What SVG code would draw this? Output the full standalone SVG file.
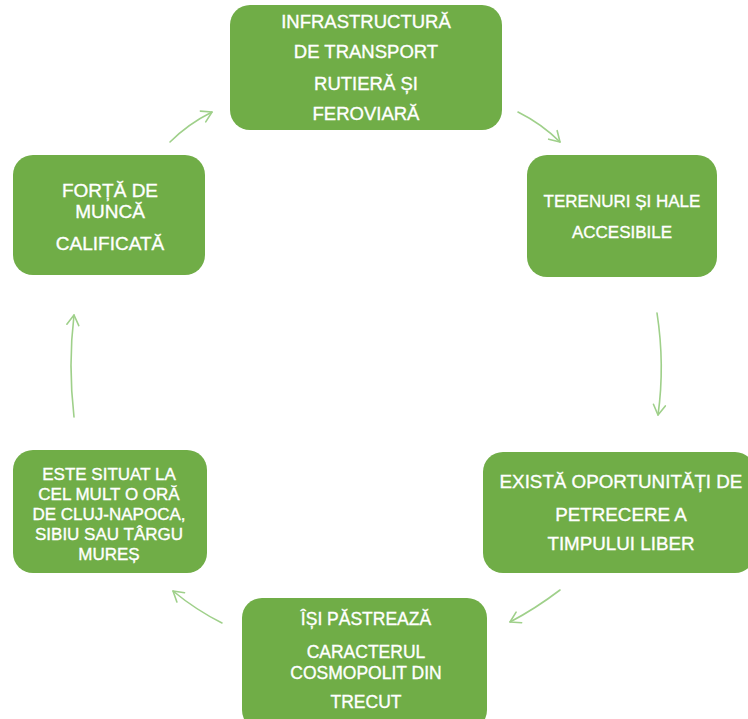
<svg xmlns="http://www.w3.org/2000/svg" width="748" height="719" viewBox="0 0 748 719">
<defs>
<style>
.node{fill:#70AD47;}
.t{fill:#ffffff;stroke:#ffffff;stroke-width:0.35;font-family:"Liberation Sans",Arial,sans-serif;text-anchor:middle;}
.c{fill:none;stroke:#9FD08A;stroke-width:1.6;stroke-linecap:round;}
</style>
<marker id="ah" viewBox="-12 -8 14 16" markerWidth="14" markerHeight="16" refX="0" refY="0" orient="auto" markerUnits="userSpaceOnUse">
<path d="M-10,-6 L0,0 L-10,6" fill="none" stroke="#9FD08A" stroke-width="1.6" stroke-linecap="round" stroke-linejoin="round"/>
</marker>
</defs>
<rect width="748" height="719" fill="#ffffff"/>
<g id="connectors">
<path class="c" d="M170,142 Q188,124 212,112" marker-end="url(#ah)"/>
<path class="c" d="M518,112 Q542,124 560,142" marker-end="url(#ah)"/>
<path class="c" d="M657,313 Q665,365 658,415" marker-end="url(#ah)"/>
<path class="c" d="M560,590 Q535,609 510,622" marker-end="url(#ah)"/>
<path class="c" d="M222,623 Q196,610 173,591" marker-end="url(#ah)"/>
<path class="c" d="M74,417 Q68,365 74,315" marker-end="url(#ah)"/>
</g>
<g id="n1">
<rect class="node" x="230" y="5" width="272" height="125" rx="20"/>
<text class="t" font-size="18.5"><tspan x="366" y="28">INFRASTRUCTURĂ</tspan><tspan x="366" y="58">DE TRANSPORT</tspan><tspan x="366" y="90">RUTIERĂ ȘI</tspan><tspan x="366" y="120">FEROVIARĂ</tspan></text>
</g>
<g id="n2">
<rect class="node" x="527" y="155" width="190" height="122" rx="20"/>
<text class="t" font-size="17"><tspan x="622" y="207">TERENURI ȘI HALE</tspan><tspan x="622" y="238">ACCESIBILE</tspan></text>
</g>
<g id="n3">
<rect class="node" x="483" y="452" width="272" height="121" rx="20"/>
<text class="t" font-size="18.8"><tspan x="621" y="488">EXISTĂ OPORTUNITĂȚI DE</tspan><tspan x="621" y="521">PETRECERE A</tspan><tspan x="621" y="550">TIMPULUI LIBER</tspan></text>
</g>
<g id="n4">
<rect class="node" x="242" y="598" width="245" height="132" rx="20"/>
<text class="t" font-size="17.5"><tspan x="366" y="625">ÎȘI PĂSTREAZĂ</tspan><tspan x="366" y="658">CARACTERUL</tspan><tspan x="366" y="679">COSMOPOLIT DIN</tspan><tspan x="366" y="708">TRECUT</tspan></text>
</g>
<g id="n5">
<rect class="node" x="13" y="450" width="194" height="123" rx="20"/>
<text class="t" font-size="17"><tspan x="109" y="480">ESTE SITUAT LA</tspan><tspan x="109" y="500">CEL MULT O ORĂ</tspan><tspan x="109" y="520">DE CLUJ-NAPOCA,</tspan><tspan x="109" y="540">SIBIU SAU TÂRGU</tspan><tspan x="109" y="560">MUREȘ</tspan></text>
</g>
<g id="n6">
<rect class="node" x="13" y="155" width="192" height="120" rx="20"/>
<text class="t" font-size="19"><tspan x="110" y="197">FORȚĂ DE</tspan><tspan x="110" y="218">MUNCĂ</tspan><tspan x="110" y="250">CALIFICATĂ</tspan></text>
</g>
</svg>
